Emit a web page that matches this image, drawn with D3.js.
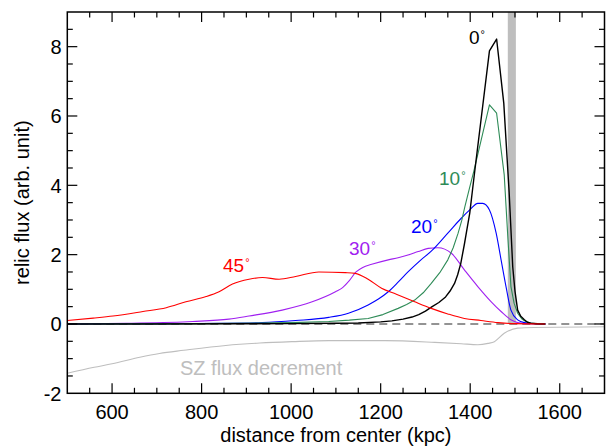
<!DOCTYPE html>
<html><head><meta charset="utf-8">
<script src="https://cdn.jsdelivr.net/npm/d3@7"></script>
<style>
html,body{margin:0;padding:0;background:#fff;}
svg{display:block;font-family:"Liberation Sans",Arial,Helvetica,sans-serif;}
</style></head>
<body>
<svg id="chart" width="606" height="446"></svg>
<script>
// ---- data (distance kpc, relic flux) ----
const xTicksMajor = [600, 800, 1000, 1200, 1400, 1600];
const yTicksMajor = [-2, 0, 2, 4, 6, 8];
const angleLabels = ["0", "10", "20", "30", "45"];

const flux0 = [[500,0],[700,0],[900,0.005],[1000,0.01],[1100,0.02],[1150,0.03],[1200,0.06],[1225,0.09],[1250,0.14],[1270,0.2],[1285,0.27],[1300,0.37],[1315,0.5],[1330,0.62],[1345,0.78],[1355,0.95],[1365,1.17],[1372,1.42],[1379,1.75],[1387,2.3],[1393,2.75],[1399,3.2],[1405,3.85],[1411,4.5],[1443,7.88],[1459,8.22],[1475,6.37],[1487,3.8],[1495,1.65],[1500,0.95],[1506,0.4],[1513,0.22],[1521,0.12],[1528,0.05],[1535,0.02],[1550,0.005],[1568,0]];
const flux10 = [[500,0],[800,0.01],[1000,0.04],[1084,0.07],[1130,0.11],[1172,0.16],[1205,0.27],[1239,0.45],[1258,0.56],[1276,0.69],[1295,0.9],[1313,1.17],[1332,1.48],[1350,1.85],[1362,2.2],[1373,2.62],[1381,2.98],[1388,3.38],[1398,3.9],[1408,4.4],[1443,6.32],[1459,6.08],[1476,4.3],[1484,2.52],[1491,1.08],[1498,0.6],[1506,0.31],[1515,0.15],[1524,0.07],[1535,0.03],[1545,0.01],[1568,0]];
const flux20 = [[500,0],[700,0.01],[850,0.02],[936,0.04],[1010,0.10],[1084,0.19],[1128,0.31],[1172,0.55],[1195,0.72],[1217,0.93],[1240,1.22],[1261,1.5],[1290,1.85],[1313,2.1],[1350,2.62],[1380,3.05],[1399,3.29],[1417,3.48],[1428,3.48],[1443,3.29],[1458,2.62],[1469,1.85],[1480,1.08],[1491,0.40],[1506,0.12],[1521,0.04],[1545,0.01],[1568,0]];
const flux30 = [[500,0],[632,0.02],[780,0.07],[861,0.14],[906,0.23],[980,0.40],[1047,0.64],[1099,0.93],[1115,1.05],[1130,1.25],[1145,1.5],[1160,1.63],[1180,1.72],[1217,1.85],[1239,1.91],[1261,1.99],[1284,2.09],[1306,2.18],[1328,2.2],[1358,2.04],[1387,1.56],[1417,1.08],[1447,0.64],[1469,0.36],[1491,0.12],[1506,0.04],[1530,0.01],[1568,0]];
const flux45 = [[500,0.1],[558,0.17],[602,0.23],[669,0.36],[721,0.47],[765,0.64],[810,0.79],[839,0.93],[869,1.15],[906,1.29],[936,1.34],[973,1.29],[1010,1.37],[1062,1.5],[1121,1.48],[1143,1.46],[1172,1.29],[1202,1.03],[1235,0.86],[1276,0.64],[1313,0.45],[1350,0.29],[1387,0.16],[1424,0.1],[1462,0.04],[1500,0.01],[1568,0]];
const fluxSZ = [[500,-1.42],[560,-1.25],[600,-1.15],[662,-0.96],[706,-0.85],[760,-0.76],[854,-0.62],[930,-0.55],[1002,-0.51],[1084,-0.48],[1210,-0.48],[1321,-0.53],[1380,-0.57],[1417,-0.60],[1440,-0.56],[1454,-0.51],[1476,-0.27],[1506,-0.12],[1543,-0.10],[1700,-0.08]];
const shockBand = [1484, 1502];

// ---- layout ----
const svg = d3.select("#chart");
const L = 67.3, R = 604.5, T = 12, B = 393.3;
const x = d3.scaleLinear().domain([500, 1700]).range([L, R]);
const y = d3.scaleLinear().domain([-2, 9]).range([B, T]);

const font = "20px";

// zero dashed line
svg.append("line").attr("x1", L).attr("x2", R).attr("y1", y(0)).attr("y2", y(0))
  .attr("stroke", "#707070").attr("stroke-width", 1.6).attr("stroke-dasharray", "8,5");

// shock band
svg.append("rect").attr("x", x(shockBand[0])).attr("y", y(9))
  .attr("width", x(shockBand[1]) - x(shockBand[0])).attr("height", y(0) - y(9))
  .attr("fill", "#bebebe");

const smooth = d3.line().x(d => x(d[0])).y(d => y(d[1])).curve(d3.curveMonotoneX);
const sharp = d3.line().x(d => x(d[0])).y(d => y(d[1])).curve(d3.curveLinear);
const series = [
  {data: fluxSZ, color: "#bebebe", w: 1.1, g: smooth},
  {data: flux30, color: "#a020f0", w: 1.1, g: smooth},
  {data: flux20, color: "#0000ff", w: 1.1, g: smooth},
  {data: flux10, color: "#2e8b57", w: 1.1, g: sharp},
  {data: flux0, color: "#000000", w: 1.4, g: sharp},
  {data: flux45, color: "#ff0000", w: 1.1, g: smooth}
];
series.forEach(s => {
  svg.append("path").attr("d", s.g(s.data)).attr("fill", "none")
    .attr("stroke", s.color).attr("stroke-width", s.w).attr("stroke-linejoin", "round");
});

// ticks inward on all four sides
const axisG = svg.append("g");
const xMinor = d3.range(550, 1700, 50);
const yMinor = d3.range(-1.5, 9, 0.5);
const isMajorX = v => v % 200 === 0;
const isMajorY = v => Math.abs(v % 2) < 1e-9;
xMinor.forEach(v => {
  const len = isMajorX(v) ? 10 : 5.5;
  axisG.append("line").attr("x1", x(v)).attr("x2", x(v)).attr("y1", B).attr("y2", B - len).attr("stroke", "#000").attr("stroke-width", 1.2);
  axisG.append("line").attr("x1", x(v)).attr("x2", x(v)).attr("y1", T).attr("y2", T + len).attr("stroke", "#000").attr("stroke-width", 1.2);
});
yMinor.forEach(v => {
  const len = isMajorY(v) ? 10 : 5.5;
  axisG.append("line").attr("x1", L).attr("x2", L + len).attr("y1", y(v)).attr("y2", y(v)).attr("stroke", "#000").attr("stroke-width", 1.2);
  axisG.append("line").attr("x1", R).attr("x2", R - len).attr("y1", y(v)).attr("y2", y(v)).attr("stroke", "#000").attr("stroke-width", 1.2);
});
svg.append("rect").attr("x", L).attr("y", T).attr("width", R - L).attr("height", B - T)
  .attr("fill", "none").attr("stroke", "#000").attr("stroke-width", 1.5);

// tick labels
svg.selectAll(".xl").data(xTicksMajor).enter().append("text")
  .attr("x", d => x(d)).attr("y", 419).attr("text-anchor", "middle")
  .style("font-size", font).text(d => d);
svg.selectAll(".yl").data(yTicksMajor).enter().append("text")
  .attr("x", 61.5).attr("y", d => y(d) + 7.5).attr("text-anchor", "end")
  .style("font-size", font).text(d => d);

// axis titles
svg.append("text").attr("x", (L + R) / 2).attr("y", 441.5).attr("text-anchor", "middle")
  .style("font-size", font).text("distance from center (kpc)");
svg.append("text").attr("transform", `translate(29,${(T + B) / 2}) rotate(-90)`).attr("text-anchor", "middle")
  .style("font-size", font).text("relic flux (arb. unit)");

// angle labels
const labelPos = [
  {t: angleLabels[0], x: 469, y: 44, c: "#000000"},
  {t: angleLabels[1], x: 439, y: 185, c: "#2e8b57"},
  {t: angleLabels[2], x: 411, y: 233, c: "#0000ff"},
  {t: angleLabels[3], x: 349, y: 255, c: "#a020f0"},
  {t: angleLabels[4], x: 223, y: 272, c: "#ff0000"}
];
labelPos.forEach(p => {
  const t = svg.append("text").attr("x", p.x).attr("y", p.y).attr("fill", p.c).style("font-size", "19px");
  t.append("tspan").text(p.t);
  t.append("tspan").attr("dx", 1).attr("dy", -6).style("font-size", "11px").text("°");
});

svg.append("text").attr("x", 180).attr("y", 375).attr("fill", "#bebebe").style("font-size", font)
  .text("SZ flux decrement");
</script>
</body></html>
